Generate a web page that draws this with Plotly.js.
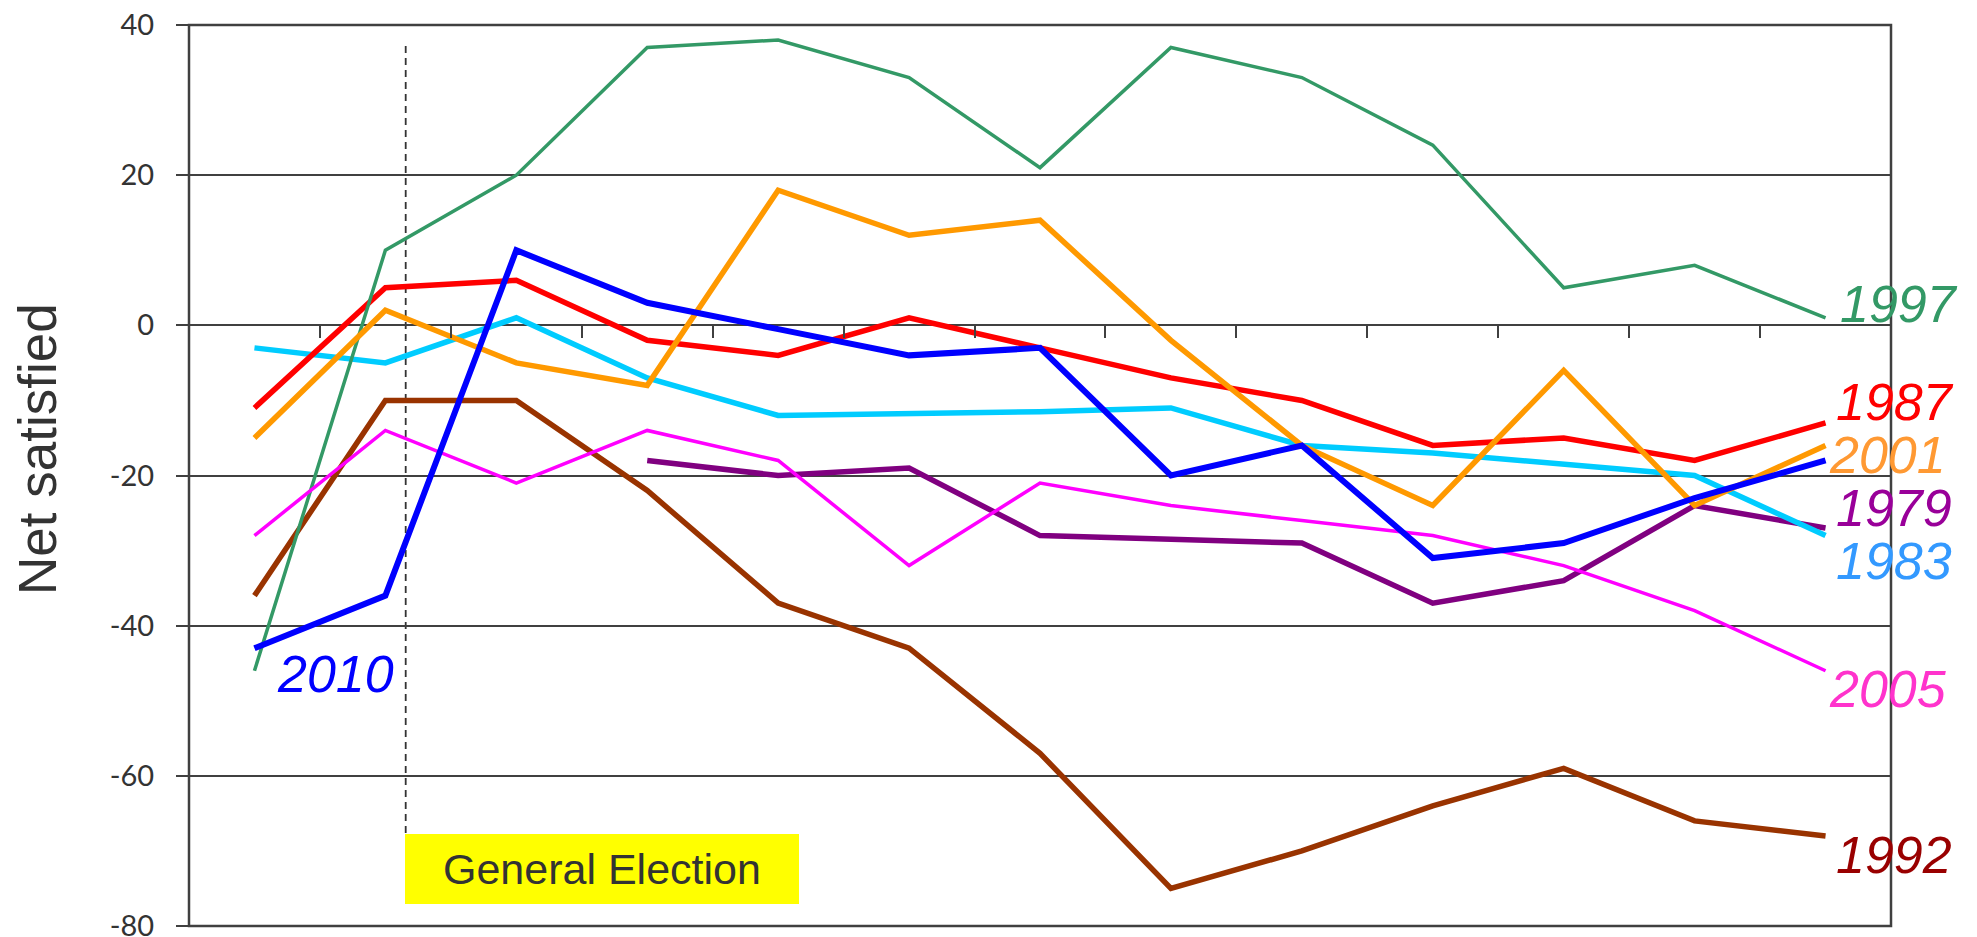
<!DOCTYPE html>
<html>
<head>
<meta charset="utf-8">
<script src="https://cdn.plot.ly/plotly-3.0.1.min.js"></script>
<style>
  html, body { margin: 0; padding: 0; background: #ffffff; }
  #chart { width: 1977px; height: 937px; }
</style>
</head>
<body>
<div id="chart"></div>
<script>
// Months after the general election (category positions; no labels shown)
const months = [0, 1, 2, 3, 4, 5, 6, 7, 8, 9, 10, 11, 12];

// Net satisfied values
const s1979 = [null, null, null, -18, -20, -19, -28, -28.5, -29, -37, -34, -24, -27];
const s1983 = [-3, -5, 1, -7, -12, -11.8, -11.5, -11, -16, -17, -18.5, -20, -28];
const s1987 = [-11, 5, 6, -2, -4, 1, -3, -7, -10, -16, -15, -18, -13];
const s1992 = [-36, -10, -10, -22, -37, -43, -57, -75, -70, -64, -59, -66, -68];
const s1997 = [-46, 10, 20, 37, 38, 33, 21, 37, 33, 24, 5, 8, 1];
const s2001 = [-15, 2, -5, -8, 18, 12, 14, -2, -16, -24, -6, -24, -16];
const s2005 = [-28, -14, -21, -14, -18, -32, -21, -24, -26, -28, -32, -38, -46];
const s2010 = [-43, -36, 10, 3, -0.5, -4, -3, -20, -16, -31, -29, -23, -18];

const yTicks = [-80, -60, -40, -20, 0, 20, 40];
const yTickText = ['-80', '-60', '-40', '-20', '0', '20', '40'];
const xTickVals = [0.5, 1.5, 2.5, 3.5, 4.5, 5.5, 6.5, 7.5, 8.5, 9.5, 10.5, 11.5];

const seriesNames = ['1979', '1983', '1987', '1992', '1997', '2001', '2005', '2010'];
const seriesData = [s1979, s1983, s1987, s1992, s1997, s2001, s2005, s2010];
const lineColors = ['#800080', '#00ccff', '#ff0000', '#993300', '#339966', '#ff9900', '#ff00ff', '#0000ff'];
const lineWidths = [5.5, 5.5, 5.5, 5.5, 3.5, 5.5, 3.5, 6];
const labelColors = ['#990099', '#3399ff', '#ff0000', '#990000', '#339966', '#ff9933', '#ff33cc', '#0000ff'];

// Label positions in pixels (left edge x, vertical centre y)
const labelPos = {
  '1997': [1838, 304],
  '1987': [1834, 402],
  '2001': [1827, 455],
  '1979': [1834, 508],
  '1983': [1834, 561],
  '2005': [1827, 689],
  '1992': [1834, 855],
  '2010': [275, 674]
};

// plot area in pixels
const L = 189, R = 1891, T = 25, B = 926;
const px = x => (x - L) / (R - L);
const py = y => (B - y) / (B - T);

const traces = seriesNames.map((name, i) => ({
  type: 'scatter',
  mode: 'lines',
  name: name,
  x: months,
  y: seriesData[i],
  connectgaps: false,
  line: { color: lineColors[i], width: lineWidths[i], shape: 'linear' },
  hoverinfo: 'x+y+name'
}));

const annotations = seriesNames.map((name, i) => ({
  xref: 'paper', yref: 'paper',
  x: px(labelPos[name][0]), y: py(labelPos[name][1]),
  xanchor: 'left', yanchor: 'middle',
  text: '<i>' + name + '</i>',
  showarrow: false,
  font: { family: 'Liberation Sans, Arial, sans-serif', size: 52, color: labelColors[i] }
}));

annotations.push({
  xref: 'paper', yref: 'paper',
  x: px(602), y: py(869),
  xanchor: 'center', yanchor: 'middle',
  text: 'General Election',
  showarrow: false,
  font: { family: 'Liberation Sans, Arial, sans-serif', size: 43, color: '#333333' }
});

annotations.push({
  xref: 'paper', yref: 'paper',
  x: px(37), y: py(449),
  xanchor: 'center', yanchor: 'middle',
  textangle: -90,
  text: 'Net satisfied',
  showarrow: false,
  font: { family: 'Liberation Sans, Arial, sans-serif', size: 53, color: '#333333' }
});

const layout = {
  width: 1977, height: 937,
  margin: { l: L, r: 1977 - R, t: T, b: 937 - B, pad: 0 },
  paper_bgcolor: '#ffffff',
  plot_bgcolor: 'rgba(0,0,0,0)',
  showlegend: false,
  xaxis: {
    range: [-0.5, 12.5],
    anchor: 'free',
    position: 80 / 120,
    showgrid: false,
    zeroline: false,
    showline: false,
    tickmode: 'array',
    tickvals: xTickVals,
    showticklabels: false,
    ticks: 'outside',
    ticklen: 12,
    tickwidth: 2,
    tickcolor: '#404040'
  },
  yaxis: {
    range: [-80, 40],
    tickmode: 'array',
    tickvals: yTicks,
    ticktext: yTickText,
    showgrid: true,
    gridcolor: '#404040',
    gridwidth: 2,
    zeroline: false,
    showline: false,
    ticks: 'outside',
    ticklen: 12,
    tickwidth: 2,
    tickcolor: '#404040',
    ticklabelstandoff: 16,
    ticklabeloverflow: 'allow',
    tickfont: { family: 'Lato, sans-serif', size: 29, color: '#333333' }
  },
  shapes: [
    {
      type: 'rect', xref: 'paper', yref: 'paper',
      x0: 0, x1: 1, y0: 0, y1: 1,
      line: { color: '#404040', width: 2.5 },
      fillcolor: 'rgba(0,0,0,0)',
      layer: 'above'
    },
    {
      type: 'line', xref: 'paper', yref: 'paper',
      x0: px(405.7), x1: px(405.7), y0: py(833), y1: py(42),
      line: { color: '#333333', width: 1.8, dash: '7px,5px' },
      layer: 'below'
    },
    {
      type: 'rect', xref: 'paper', yref: 'paper',
      x0: px(405), x1: px(799), y0: py(904), y1: py(834),
      line: { width: 0 },
      fillcolor: '#ffff00',
      layer: 'above'
    }
  ],
  annotations: annotations
};

Plotly.newPlot('chart', traces, layout, { displayModeBar: false, staticPlot: true });
</script>
</body>
</html>
